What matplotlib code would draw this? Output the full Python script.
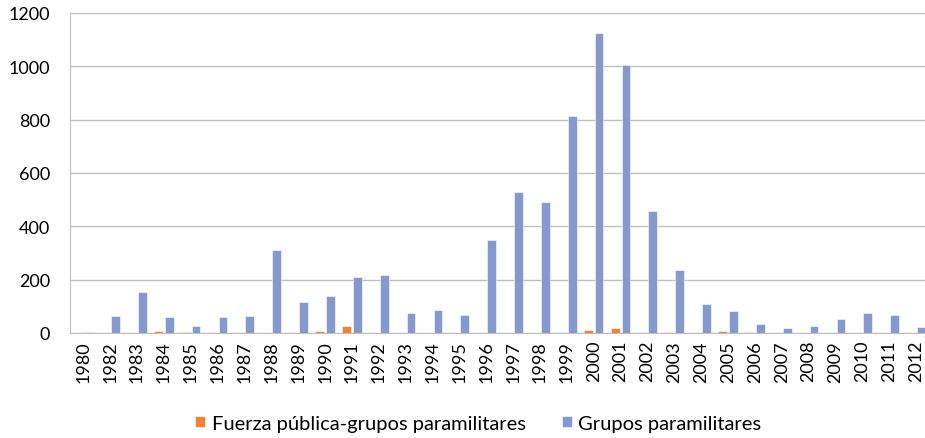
import numpy as np
import matplotlib
matplotlib.use('Agg')
import matplotlib.pyplot as plt

# Datos por año
years = ['1980', '1982', '1983', '1984', '1985', '1986', '1987', '1988', '1989', '1990',
         '1991', '1992', '1993', '1994', '1995', '1996', '1997', '1998', '1999', '2000',
         '2001', '2002', '2003', '2004', '2005', '2006', '2007', '2008', '2009', '2010',
         '2011', '2012']
fuerza_publica = [0, 0, 0, 7, 3, 0, 0, 0, 0, 9,
                  26, 0, 0, 0, 0, 0, 0, 0, 0, 11,
                  17, 0, 4, 0, 7, 3, 0, 0, 0, 0,
                  0, 0]
grupos_para = [5, 62, 154, 60, 27, 59, 64, 310, 116, 140,
               211, 217, 75, 85, 66, 347, 530, 492, 814, 1124,
               1006, 459, 235, 110, 81, 33, 17, 26, 51, 75,
               66, 22]

plt.rcParams['font.family'] = ['Lato', 'DejaVu Sans']

fig = plt.figure(figsize=(9.25, 4.39), dpi=100)
ax = fig.add_axes([69.8 / 925, 1 - 334 / 439, (929.6 - 69.8) / 925, 320 / 439])

x = np.arange(len(years))
w = 0.324
ax.bar(x - 0.2, fuerza_publica, w, color='#F08336', edgecolor='white', linewidth=0.4,
       label='Fuerza pública-grupos paramilitares', zorder=3)
ax.bar(x + 0.2, grupos_para, w, color='#8499D0', edgecolor='white', linewidth=0.4,
       label='Grupos paramilitares', zorder=3)

ax.set_xlim(-0.5, len(years) - 0.5)
ax.set_ylim(0, 1200)
ax.set_yticks(range(0, 1201, 200))
ax.set_xticks(x)
ax.set_xticklabels(years, rotation=90)
ax.tick_params(axis='both', length=0, labelsize=13, colors='black')
ax.tick_params(axis='y', pad=14)
ax.tick_params(axis='x', pad=5)

ax.grid(axis='y', color='#BFBFBF', linewidth=1, zorder=0)
for s in ['top', 'right']:
    ax.spines[s].set_visible(False)
ax.spines['left'].set_color('#BFBFBF')
ax.spines['bottom'].set_color('#BFBFBF')

fig.legend(loc='center', bbox_to_anchor=(0.517, 0.034), ncol=2, frameon=False,
           fontsize=14.5, handlelength=0.5, handleheight=0.5, handletextpad=0.3,
           columnspacing=1.8)

fig.savefig('out.png', dpi=100)
